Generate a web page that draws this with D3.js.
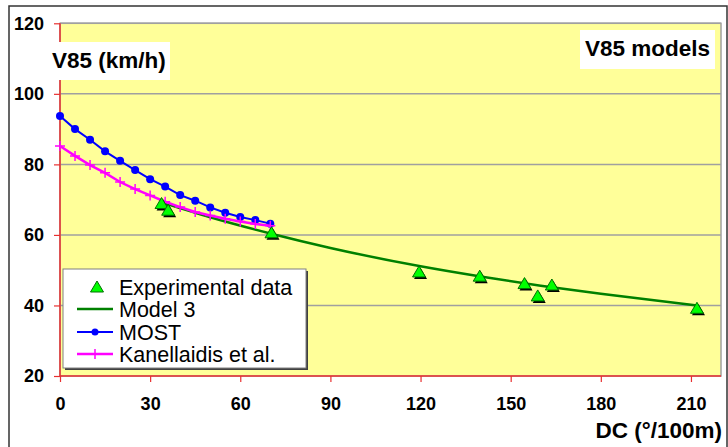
<!DOCTYPE html>
<html>
<head>
<meta charset="utf-8">
<script src="https://cdn.jsdelivr.net/npm/d3@7"></script>
<style>
  body { margin: 0; background: #fff; }
  text { font-family: "Liberation Sans", Arial, sans-serif; }
</style>
</head>
<body>
<div id="chart"></div>
<script>
var svgWidth = 728;
var svgHeight = 447;

var margin = { top: 23.3, right: 7, bottom: 71, left: 60 };
var width = svgWidth - margin.left - margin.right;
var height = svgHeight - margin.top - margin.bottom;

// data
var xTicks = [0, 30, 60, 90, 120, 150, 180, 210];
var yTicks = [20, 40, 60, 80, 100, 120];

var mostDC = [0, 5, 10, 15, 20, 25, 30, 35, 40, 45, 50, 55, 60, 65, 70];
var mostV = [93.7, 90.0, 87.0, 83.7, 81.0, 78.4, 75.8, 73.7, 71.3, 69.7, 67.8, 66.3, 65.1, 64.2, 63.2];

var kanDC = [0, 5, 10, 15, 20, 25, 30, 35, 40, 45, 50, 55, 60, 65, 70];
var kanV = [85.2, 82.4, 79.8, 77.6, 75.0, 73.0, 71.2, 69.4, 67.9, 66.5, 65.5, 64.6, 63.8, 63.1, 62.6];

var model3DC = [35, 50, 70, 90, 120, 140, 160, 180, 212];
var model3V = [68.9, 65.0, 60.4, 56.3, 51.1, 48.2, 45.6, 43.3, 40.0];

var expDC = [33.8, 36, 70.4, 119.5, 139.7, 154.6, 159, 163.7, 212];
var expV = [68.9, 67.0, 60.6, 49.5, 48.3, 46.2, 42.7, 45.8, 39.2];

var legendLabels = ["Experimental data", "Model 3", "MOST", "Kanellaidis et al."];

var svg = d3.select("#chart")
    .append("svg")
    .attr("width", svgWidth)
    .attr("height", svgHeight);

// outer chart border
svg.append("rect")
    .attr("x", 9).attr("y", 6)
    .attr("width", 718).attr("height", 460)
    .attr("fill", "none")
    .attr("stroke", "#333")
    .attr("stroke-width", 1.5);

var chartGroup = svg.append("g")
    .attr("transform", `translate(${margin.left}, ${margin.top})`);

var xScale = d3.scaleLinear().domain([0, 220]).range([0, width]);
var yScale = d3.scaleLinear().domain([20, 120]).range([height, 0]);

// plot area
chartGroup.append("rect")
    .attr("width", width).attr("height", height)
    .attr("fill", "#FFFF99")
    .attr("stroke", "#A0A0A0")
    .attr("stroke-width", 1.5);

// gridlines
chartGroup.append("g")
    .selectAll("line")
    .data(yTicks.slice(1))
    .enter()
    .append("line")
    .attr("x1", 0).attr("x2", width)
    .attr("y1", d => yScale(d)).attr("y2", d => yScale(d))
    .attr("stroke", "#A0A0A0")
    .attr("stroke-width", 1.5);

// axes
var bottomAxis = d3.axisBottom(xScale).tickValues(xTicks).tickSize(6).tickPadding(15);
var leftAxis = d3.axisLeft(yScale).tickValues(yTicks).tickSize(6).tickPadding(10);

var xAxisG = chartGroup.append("g")
    .attr("transform", `translate(0, ${height})`)
    .call(bottomAxis);

var yAxisG = chartGroup.append("g")
    .call(leftAxis);

[xAxisG, yAxisG].forEach(function(g) {
    g.select(".domain").attr("stroke", "#E83030").attr("stroke-width", 1.5);
    g.selectAll(".tick line").attr("stroke", "#E83030").attr("stroke-width", 1.2);
    g.selectAll(".tick text")
        .attr("fill", "#000")
        .attr("font-size", "18px")
        .attr("font-weight", "bold")
        .attr("font-family", "Liberation Sans, Arial, sans-serif");
});
xAxisG.select(".domain").attr("d", `M0,0H${width}`);
yAxisG.select(".domain").attr("d", `M0,${height}V0`);

// Model 3 line
var model3Data = model3DC.map((d, i) => ({ x: d, y: model3V[i] }));
var lineGen = d3.line()
    .x(d => xScale(d.x))
    .y(d => yScale(d.y))
    .curve(d3.curveMonotoneX);

chartGroup.append("path")
    .datum(model3Data)
    .attr("d", lineGen)
    .attr("fill", "none")
    .attr("stroke", "#008000")
    .attr("stroke-width", 2.5);

// MOST
var mostData = mostDC.map((d, i) => ({ x: d, y: mostV[i] }));
chartGroup.append("path")
    .datum(mostData)
    .attr("d", d3.line().x(d => xScale(d.x)).y(d => yScale(d.y)))
    .attr("fill", "none")
    .attr("stroke", "#0000FF")
    .attr("stroke-width", 2);

chartGroup.append("g")
    .selectAll("circle")
    .data(mostData)
    .enter()
    .append("circle")
    .attr("cx", d => xScale(d.x))
    .attr("cy", d => yScale(d.y))
    .attr("r", 4)
    .attr("fill", "#0000FF");

// Kanellaidis
var kanData = kanDC.map((d, i) => ({ x: d, y: kanV[i] }));
chartGroup.append("path")
    .datum(kanData)
    .attr("d", d3.line().x(d => xScale(d.x)).y(d => yScale(d.y)))
    .attr("fill", "none")
    .attr("stroke", "#FF00FF")
    .attr("stroke-width", 2.5);

var plusPath = "M-5,0H5M0,-5V5";
chartGroup.append("g")
    .selectAll("path")
    .data(kanData)
    .enter()
    .append("path")
    .attr("d", plusPath)
    .attr("transform", d => `translate(${xScale(d.x)}, ${yScale(d.y)})`)
    .attr("stroke", "#FF00FF")
    .attr("stroke-width", 1.5);

// Experimental triangles
var triPath = "M0,-6L6.5,5L-6.5,5Z";
var expData = expDC.map((d, i) => ({ x: d, y: expV[i] }));
var expGroup = chartGroup.append("g");
expData.forEach(function(d) {
    var px = xScale(d.x), py = yScale(d.y);
    expGroup.append("path")
        .attr("d", triPath)
        .attr("transform", `translate(${px + 1.5}, ${py + 2})`)
        .attr("fill", "#000");
    expGroup.append("path")
        .attr("d", triPath)
        .attr("transform", `translate(${px}, ${py})`)
        .attr("fill", "#00FF00")
        .attr("stroke", "#007000")
        .attr("stroke-width", 1);
});

// labels with white boxes
svg.append("rect")
    .attr("x", 48).attr("y", 42).attr("width", 122).attr("height", 38)
    .attr("fill", "#fff");
svg.append("text")
    .attr("x", 52).attr("y", 68)
    .attr("font-size", "22.5px").attr("font-weight", "bold")
    .text("V85 (km/h)");

svg.append("rect")
    .attr("x", 580).attr("y", 30).attr("width", 135).attr("height", 39)
    .attr("fill", "#fff");
svg.append("text")
    .attr("x", 710).attr("y", 56)
    .attr("text-anchor", "end")
    .attr("font-size", "22.5px").attr("font-weight", "bold")
    .text("V85 models");

svg.append("text")
    .attr("x", 722).attr("y", 438)
    .attr("text-anchor", "end")
    .attr("font-size", "22.5px").attr("font-weight", "bold")
    .text("DC (°/100m)");

// legend
var legend = svg.append("g").attr("transform", "translate(63, 269)");
legend.append("rect")
    .attr("x", 2).attr("y", 2).attr("width", 243).attr("height", 99)
    .attr("fill", "#404040");
legend.append("rect")
    .attr("width", 243).attr("height", 99)
    .attr("fill", "#fff")
    .attr("stroke", "#808080")
    .attr("stroke-width", 1);

var rowY = [18, 40, 63, 85];
legendLabels.forEach(function(label, i) {
    legend.append("text")
        .attr("x", 56).attr("y", rowY[i] + 7.5)
        .attr("font-size", "21.5px")
        .text(label);
});
// sample marks
legend.append("path")
    .attr("d", triPath)
    .attr("transform", `translate(34, ${rowY[0]})`)
    .attr("fill", "#00FF00")
    .attr("stroke", "#007000");
legend.append("line")
    .attr("x1", 14).attr("x2", 50).attr("y1", rowY[1]).attr("y2", rowY[1])
    .attr("stroke", "#008000").attr("stroke-width", 2.5);
legend.append("line")
    .attr("x1", 14).attr("x2", 50).attr("y1", rowY[2]).attr("y2", rowY[2])
    .attr("stroke", "#0000FF").attr("stroke-width", 2);
legend.append("circle")
    .attr("cx", 32).attr("cy", rowY[2]).attr("r", 3.5)
    .attr("fill", "#0000FF");
legend.append("line")
    .attr("x1", 14).attr("x2", 50).attr("y1", rowY[3]).attr("y2", rowY[3])
    .attr("stroke", "#FF00FF").attr("stroke-width", 2.5);
legend.append("path")
    .attr("d", plusPath)
    .attr("transform", `translate(32, ${rowY[3]})`)
    .attr("stroke", "#FF00FF").attr("stroke-width", 1.5);
</script>
</body>
</html>
